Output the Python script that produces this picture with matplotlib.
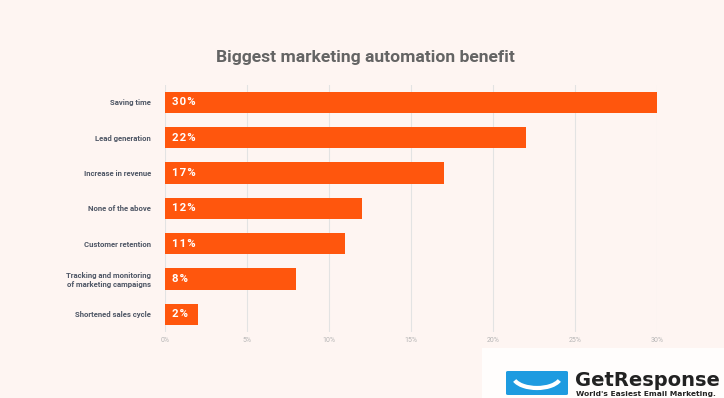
import matplotlib.pyplot as plt
from matplotlib.patches import Rectangle, FancyBboxPatch, Arc
import numpy as np

categories = ['Saving time', 'Lead generation', 'Increase in revenue', 'None of the above',
              'Customer retention', 'Tracking and monitoring\nof marketing campaigns',
              'Shortened sales cycle']
values = [30, 22, 17, 12, 11, 8, 2]
ticks = [0, 5, 10, 15, 20, 25, 30]
tick_labels = ['0%', '5%', '10%', '15%', '20%', '25%', '30%']

bg = '#FEF5F2'
bar_color = '#FF560D'

fig = plt.figure(figsize=(7.24, 3.98), dpi=100)
fig.patch.set_facecolor(bg)
ax = fig.add_axes([0.228, 0.166, 0.6795, 0.621])
ax.set_facecolor(bg)

y = np.arange(len(categories))
ax.barh(y, values, height=0.6, color=bar_color, zorder=3)
ax.set_ylim(len(categories) - 0.5, -0.5)
ax.set_xlim(0, 30)

for yi, v in zip(y, values):
    ax.text(0.4, yi, ' '.join(f'{v}%').replace(' ', '\u200a'), color='white', fontsize=8.2,
            fontweight='bold', va='center', ha='left', family=['Roboto', 'DejaVu Sans'],
            zorder=4)

ax.set_xticks(ticks)
ax.set_xticklabels(tick_labels, fontsize=5, color='#B5B5B5', family='Roboto')
ax.set_yticks(y)
ax.set_yticklabels(categories, fontsize=5.6, color='#4F5766', fontweight='bold',
                   family='Roboto', linespacing=1.2)
ax.tick_params(length=0, pad=10, axis='y')
ax.tick_params(length=0, pad=4, axis='x')
ax.grid(axis='x', color='#E3E3E3', linewidth=0.8, zorder=0)
for s in ax.spines.values():
    s.set_visible(False)

fig.text(0.505, 0.855, 'Biggest marketing automation benefit', ha='center', va='center',
         fontsize=12.6, fontweight='bold', color='#646464', family='Roboto')

# logo box in the corner
W, H = 724, 398
fig.patches.append(Rectangle((482 / W, 0), 242 / W, 50 / H, transform=fig.transFigure,
                             facecolor='#FFFDFC', edgecolor='none'))
fig.patches.append(FancyBboxPatch((506 / W, 3 / H), 62 / W, 24 / H,
                                  boxstyle='round,pad=0,rounding_size=0.003',
                                  transform=fig.transFigure, facecolor='#1E9BE0',
                                  edgecolor='none'))
fig.patches.append(Arc((537 / W, 22 / H), 48 / W, 24 / H, theta1=200, theta2=340,
                       transform=fig.transFigure, color='white', linewidth=3))
fig.text(575 / W, 11.5 / H, 'GetResponse', fontsize=14, fontweight='bold',
         color='#222222', family='DejaVu Sans', va='baseline', ha='left')
fig.text(576 / W, 4.2 / H, "World's Easiest Email Marketing.", fontsize=5.4,
         fontweight='bold', color='#222222', family='DejaVu Sans', va='center', ha='left')

fig.savefig('out.png', dpi=100, facecolor=bg)
